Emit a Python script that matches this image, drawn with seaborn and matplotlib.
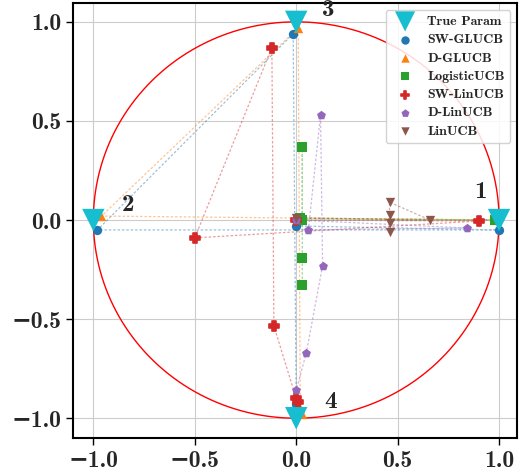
import numpy as np
import pandas as pd
import matplotlib
matplotlib.use("Agg")
import matplotlib.pyplot as plt
import seaborn as sns

# True parameter positions (four switches)
true_x = [1.0, -1.0, 0.0, 0.0]
true_y = [0.0, 0.0, 1.0, -1.0]
true_labels = ["1", "2", "3", "4"]
label_x = [0.91, -0.83, 0.16, 0.17]
label_y = [0.14, 0.075, 1.06, -0.92]

# Estimated trajectories
algos = ["SW-GLUCB", "D-GLUCB", "LogisticUCB", "SW-LinUCB", "D-LinUCB", "LinUCB"]
sw_glucb_x = [0.0, 1.0, -0.98, -0.015, 0.0, 0.0]
sw_glucb_y = [-0.03, -0.05, -0.05, 0.94, -0.93, -0.96]
d_glucb_x = [0.0, 0.98, -0.96, 0.01, 0.02, 0.03]
d_glucb_y = [0.01, 0.0, 0.02, 0.97, -0.95, -0.98]
logistic_x = [0.02, 0.98, 0.03, 0.03, 0.03, 0.03]
logistic_y = [0.01, 0.0, 0.0, 0.37, -0.19, -0.33]
sw_linucb_x = [0.0, 0.9, -0.5, -0.12, -0.11, 0.0, 0.01]
sw_linucb_y = [0.0, -0.005, -0.09, 0.87, -0.535, -0.9, -0.92]
d_linucb_x = [0.0, 0.84, 0.06, 0.12, 0.13, 0.05, 0.0]
d_linucb_y = [0.0, -0.04, -0.05, 0.53, -0.23, -0.67, -0.86]
linucb_x = [0.0, 0.66, 0.46, 0.46, 0.46, 0.46]
linucb_y = [0.01, 0.0, 0.09, 0.025, -0.015, -0.06]

xs = [sw_glucb_x, d_glucb_x, logistic_x, sw_linucb_x, d_linucb_x, linucb_x]
ys = [sw_glucb_y, d_glucb_y, logistic_y, sw_linucb_y, d_linucb_y, linucb_y]
colors = ["tab:blue", "tab:orange", "tab:green", "tab:red", "tab:purple", "tab:brown"]
markers = ["o", "^", "s", "P", "p", "v"]

sns.set_style("whitegrid")
plt.rcParams["font.family"] = ["cmb10", "DejaVu Serif"]
plt.rcParams["font.weight"] = "bold"

fig = plt.figure(figsize=(5.22, 4.72), dpi=100)
ax = fig.add_axes([0.14, 0.072, 0.851, 0.922])

# unit circle
t = np.linspace(0, 2 * np.pi, 400)
ax.plot(np.cos(t), np.sin(t), color="red", lw=1.0, zorder=1)

sns.scatterplot(x=true_x, y=true_y, marker="v", s=260, color="#17becf",
                edgecolor="none", label="True Param", ax=ax, zorder=5)

for name, x, y, c, m in zip(algos, xs, ys, colors, markers):
    df = pd.DataFrame({"x": x, "y": y, "step": range(len(x))})
    sns.lineplot(data=df, x="x", y="y", sort=False, estimator=None,
                 color=c, lw=0.9, alpha=0.45, dashes=False, ax=ax, zorder=2,
                 linestyle=(0, (2, 1.5)))
    ew = 1.2 if m == "P" else 0
    sns.scatterplot(data=df, x="x", y="y", marker=m, s=45, color=c,
                    edgecolor=c, linewidth=ew, label=name, ax=ax, zorder=4)

for lx, ly, txt in zip(label_x, label_y, true_labels):
    ax.text(lx, ly, txt, fontsize=18, ha="center", va="center")

ax.set_xlim(-1.1, 1.09)
ax.set_ylim(-1.1, 1.096)
ax.set_xticks([-1.0, -0.5, 0.0, 0.5, 1.0])
ax.set_yticks([-1.0, -0.5, 0.0, 0.5, 1.0])
ax.set_xlabel("")
ax.set_ylabel("")
ax.tick_params(labelsize=17, length=5, width=1, direction="out",
               bottom=True, left=True, color="black")
for sp in ax.spines.values():
    sp.set_color("black")
    sp.set_linewidth(1.5)

ax.legend(loc="upper right", fontsize=10, markerscale=0.9, handletextpad=0.6,
          borderpad=0.4, labelspacing=0.4, framealpha=0.85)

fig.savefig("out.png", dpi=100)
